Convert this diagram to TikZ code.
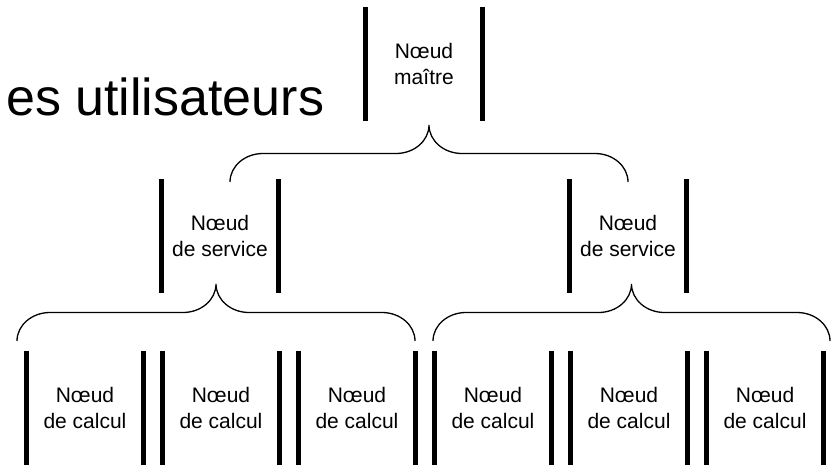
\documentclass[tikz,border=0pt]{standalone}
\usepackage{fontspec}
\setmainfont{Liberation Sans}
\tikzset{
  unit/.style={minimum width=116pt, minimum height=114pt, inner sep=0pt,
    align=center, font=\fontsize{21}{25.5}\selectfont},
  bar/.style={line width=5pt},
  brace/.style={line width=1.3pt, line cap=butt},
  title/.style={anchor=base west, inner sep=0pt, font=\fontsize{52}{60}\selectfont}
}
% #1 left x, #2 right x, #3 y of horizontal part, #4 name of tip
\newcommand{\mybrace}[4]{%
  \draw[brace] (#1,#3-28.5) arc[start angle=180,end angle=90,x radius=33pt,y radius=28.5pt]
    -- ({(#1+#2)/2-33},#3) arc[start angle=270,end angle=360,x radius=33pt,y radius=28.5pt]
    coordinate (#4)
    arc[start angle=180,end angle=270,x radius=33pt,y radius=28.5pt]
    -- (#2-33,#3) arc[start angle=90,end angle=0,x radius=33pt,y radius=28.5pt];}
\begin{document}
\begin{tikzpicture}[x=1pt,y=1pt]
\useasboundingbox[fill=white] (0,0) rectangle (837,-466);
\node[title] (t) at (6,-115) {es utilisateurs};
\node[unit] (m) at (424,-64) {Nœud\\maître};
\node[unit] (s1) at (220,-236) {Nœud\\de service};
\node[unit] (s2) at (628,-236) {Nœud\\de service};
\foreach \i/\x in {1/85,2/221,3/357,4/493,5/629,6/765}
  \node[unit] (c\i) at (\x,-408) {Nœud\\de calcul};
\foreach \n in {m,s1,s2,c1,c2,c3,c4,c5,c6}
  \draw[bar] (\n.north west) -- (\n.south west) (\n.north east) -- (\n.south east);
\mybrace{230}{628}{-153.5}{tm}
\mybrace{17}{415}{-312.5}{t1}
\mybrace{433}{830}{-312.5}{t2}
\end{tikzpicture}
\end{document}
